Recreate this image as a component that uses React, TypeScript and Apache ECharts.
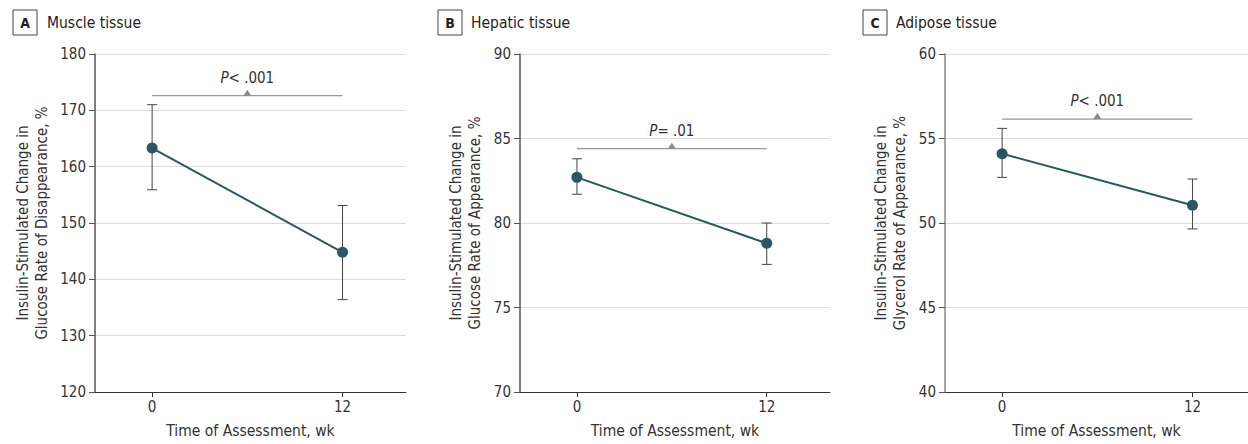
import React, { useEffect, useRef } from "react";
import * as echarts from "echarts";

const weeks = [0, 12];
const xTickValues = [0, 12];

const muscleMean = [163.3, 144.8];
const muscleLow = [155.9, 136.4];
const muscleHigh = [171.0, 153.1];

const hepaticMean = [82.7, 78.8];
const hepaticLow = [81.7, 77.55];
const hepaticHigh = [83.8, 80.0];

const adiposeMean = [54.1, 51.05];
const adiposeLow = [52.7, 49.65];
const adiposeHigh = [55.6, 52.6];

const panelLetters = ["A", "B", "C"];
const panelTitles = ["Muscle tissue", "Hepatic tissue", "Adipose tissue"];
const yNames = [
  "Insulin-Stimulated Change in\nGlucose Rate of Disappearance, %",
  "Insulin-Stimulated Change in\nGlucose Rate of Appearance, %",
  "Insulin-Stimulated Change in\nGlycerol Rate of Appearance, %",
];
const yMins = [120, 70, 40];
const yMaxs = [180, 90, 60];
const yIntervals = [10, 5, 5];
const bracketLevels = [172.6, 84.4, 56.15];
const pTexts = ["< .001", "= .01", "< .001"];

const FONT = "'Liberation Sans Narrow', 'DejaVu Sans Condensed', 'Noto Sans', sans-serif";

export default function App() {
  const ref = useRef<HTMLDivElement>(null);
  useEffect(() => {
    if (!ref.current) return;
    const chart = echarts.init(ref.current, undefined, { renderer: "svg" });
    const means = [muscleMean, hepaticMean, adiposeMean];
    const lows = [muscleLow, hepaticLow, adiposeLow];
    const highs = [muscleHigh, hepaticHigh, adiposeHigh];

    const grids = [
      { left: 95, right: 842, top: 54, bottom: 47 },
      { left: 520, right: 418, top: 54, bottom: 47 },
      { left: 945, right: 0, top: 54, bottom: 47 },
    ];
    const xMaxs = [16, 16, 15.5];
    const yNameGaps = [44, 36, 36];
    const yAxisColors = ["#555", "#555", "#888"];

    const xAxes = grids.map((_, i) => ({
      type: "value",
      gridIndex: i,
      min: -3.6,
      max: xMaxs[i],
      name: "Time of Assessment, wk",
      nameLocation: "middle",
      nameGap: 31,
      nameTextStyle: { fontFamily: FONT, fontSize: 15.5, color: "#333" },
      axisLine: { show: true, onZero: false, lineStyle: { color: "#333", width: 1 } },
      axisTick: { show: true, length: 5, customValues: xTickValues, lineStyle: { color: "#333" } },
      axisLabel: { customValues: xTickValues, fontFamily: FONT, fontSize: 15, color: "#333", margin: 7 },
      splitLine: { show: false },
    }));

    const yAxes = grids.map((_, i) => ({
      type: "value",
      gridIndex: i,
      min: yMins[i],
      max: yMaxs[i],
      interval: yIntervals[i],
      name: yNames[i],
      nameLocation: "middle",
      nameGap: yNameGaps[i],
      nameTextStyle: { fontFamily: FONT, fontSize: 15, color: "#333", lineHeight: 19 },
      axisLine: { show: true, onZero: false, lineStyle: { color: yAxisColors[i], width: 1.5 } },
      axisTick: { show: true, length: 6, lineStyle: { color: "#555" } },
      axisLabel: { fontFamily: FONT, fontSize: 15, color: "#333", margin: 9 },
      splitLine: { show: true, lineStyle: { color: "#dddddd", width: 1 } },
    }));

    const series: any[] = [];
    for (let i = 0; i < 3; i++) {
      series.push({
        type: "custom",
        xAxisIndex: i,
        yAxisIndex: i,
        z: 2,
        encode: { x: 0, y: [1, 2] },
        data: weeks.map((w, k) => [w, lows[i][k], highs[i][k]]),
        renderItem: (params: any, api: any) => {
          const x = api.value(0);
          const lo = api.coord([x, api.value(1)]);
          const hi = api.coord([x, api.value(2)]);
          const st = { stroke: "#444", lineWidth: 1 };
          const c = 5;
          return {
            type: "group",
            children: [
              { type: "line", shape: { x1: lo[0], y1: lo[1], x2: hi[0], y2: hi[1] }, style: st },
              { type: "line", shape: { x1: lo[0] - c, y1: lo[1], x2: lo[0] + c, y2: lo[1] }, style: st },
              { type: "line", shape: { x1: hi[0] - c, y1: hi[1], x2: hi[0] + c, y2: hi[1] }, style: st },
            ],
          };
        },
      });
      series.push({
        type: "line",
        xAxisIndex: i,
        yAxisIndex: i,
        z: 3,
        data: weeks.map((w, k) => [w, means[i][k]]),
        symbol: "circle",
        symbolSize: 11,
        lineStyle: { color: "#2b5765", width: 2 },
        itemStyle: { color: "#2b5765" },
      });
      series.push({
        type: "custom",
        xAxisIndex: i,
        yAxisIndex: i,
        z: 1,
        encode: { x: [0, 1], y: 2 },
        data: [[weeks[0], weeks[1], bracketLevels[i]]],
        renderItem: (params: any, api: any) => {
          const a = api.coord([api.value(0), api.value(2)]);
          const b = api.coord([api.value(1), api.value(2)]);
          const mx = (a[0] + b[0]) / 2;
          const y = a[1];
          return {
            type: "group",
            children: [
              { type: "line", shape: { x1: a[0], y1: y, x2: b[0], y2: y }, style: { stroke: "#999", lineWidth: 1.2 } },
              {
                type: "polygon",
                shape: { points: [[mx - 4, y], [mx + 4, y], [mx, y - 6]] },
                style: { fill: "#8a8a8a" },
              },
              {
                type: "text",
                x: mx,
                y: y - 18,
                style: {
                  text: "{i|P}" + pTexts[i],
                  rich: { i: { fontStyle: "italic", fontFamily: FONT, fontSize: 15, fill: "#333" } },
                  fontFamily: FONT,
                  fontSize: 15,
                  fill: "#333",
                  align: "center",
                  verticalAlign: "middle",
                },
              },
            ],
          };
        },
      });
    }

    const boxX = [13, 438, 863];
    const textX = [47, 471, 896];
    const graphic: any[] = [];
    for (let i = 0; i < 3; i++) {
      graphic.push({
        type: "rect",
        shape: { x: boxX[i], y: 10, width: 24, height: 25 },
        style: { fill: "#fff", stroke: "#444", lineWidth: 1 },
      });
      graphic.push({
        type: "text",
        x: boxX[i] + 12,
        y: 22.5,
        style: {
          text: panelLetters[i],
          fontFamily: FONT,
          fontWeight: "bold",
          fontSize: 14,
          fill: "#222",
          align: "center",
          verticalAlign: "middle",
        },
      });
      graphic.push({
        type: "text",
        x: textX[i],
        y: 23,
        style: {
          text: panelTitles[i],
          fontFamily: FONT,
          fontSize: 15.5,
          fill: "#222",
          align: "left",
          verticalAlign: "middle",
        },
      });
    }

    chart.setOption({
      animation: false,
      backgroundColor: "#fff",
      grid: grids,
      xAxis: xAxes,
      yAxis: yAxes,
      series,
      graphic,
    });
    return () => chart.dispose();
  }, []);
  return <div ref={ref} style={{ position: "fixed", left: 0, top: 0, width: 1248, height: 444 }} />;
}
